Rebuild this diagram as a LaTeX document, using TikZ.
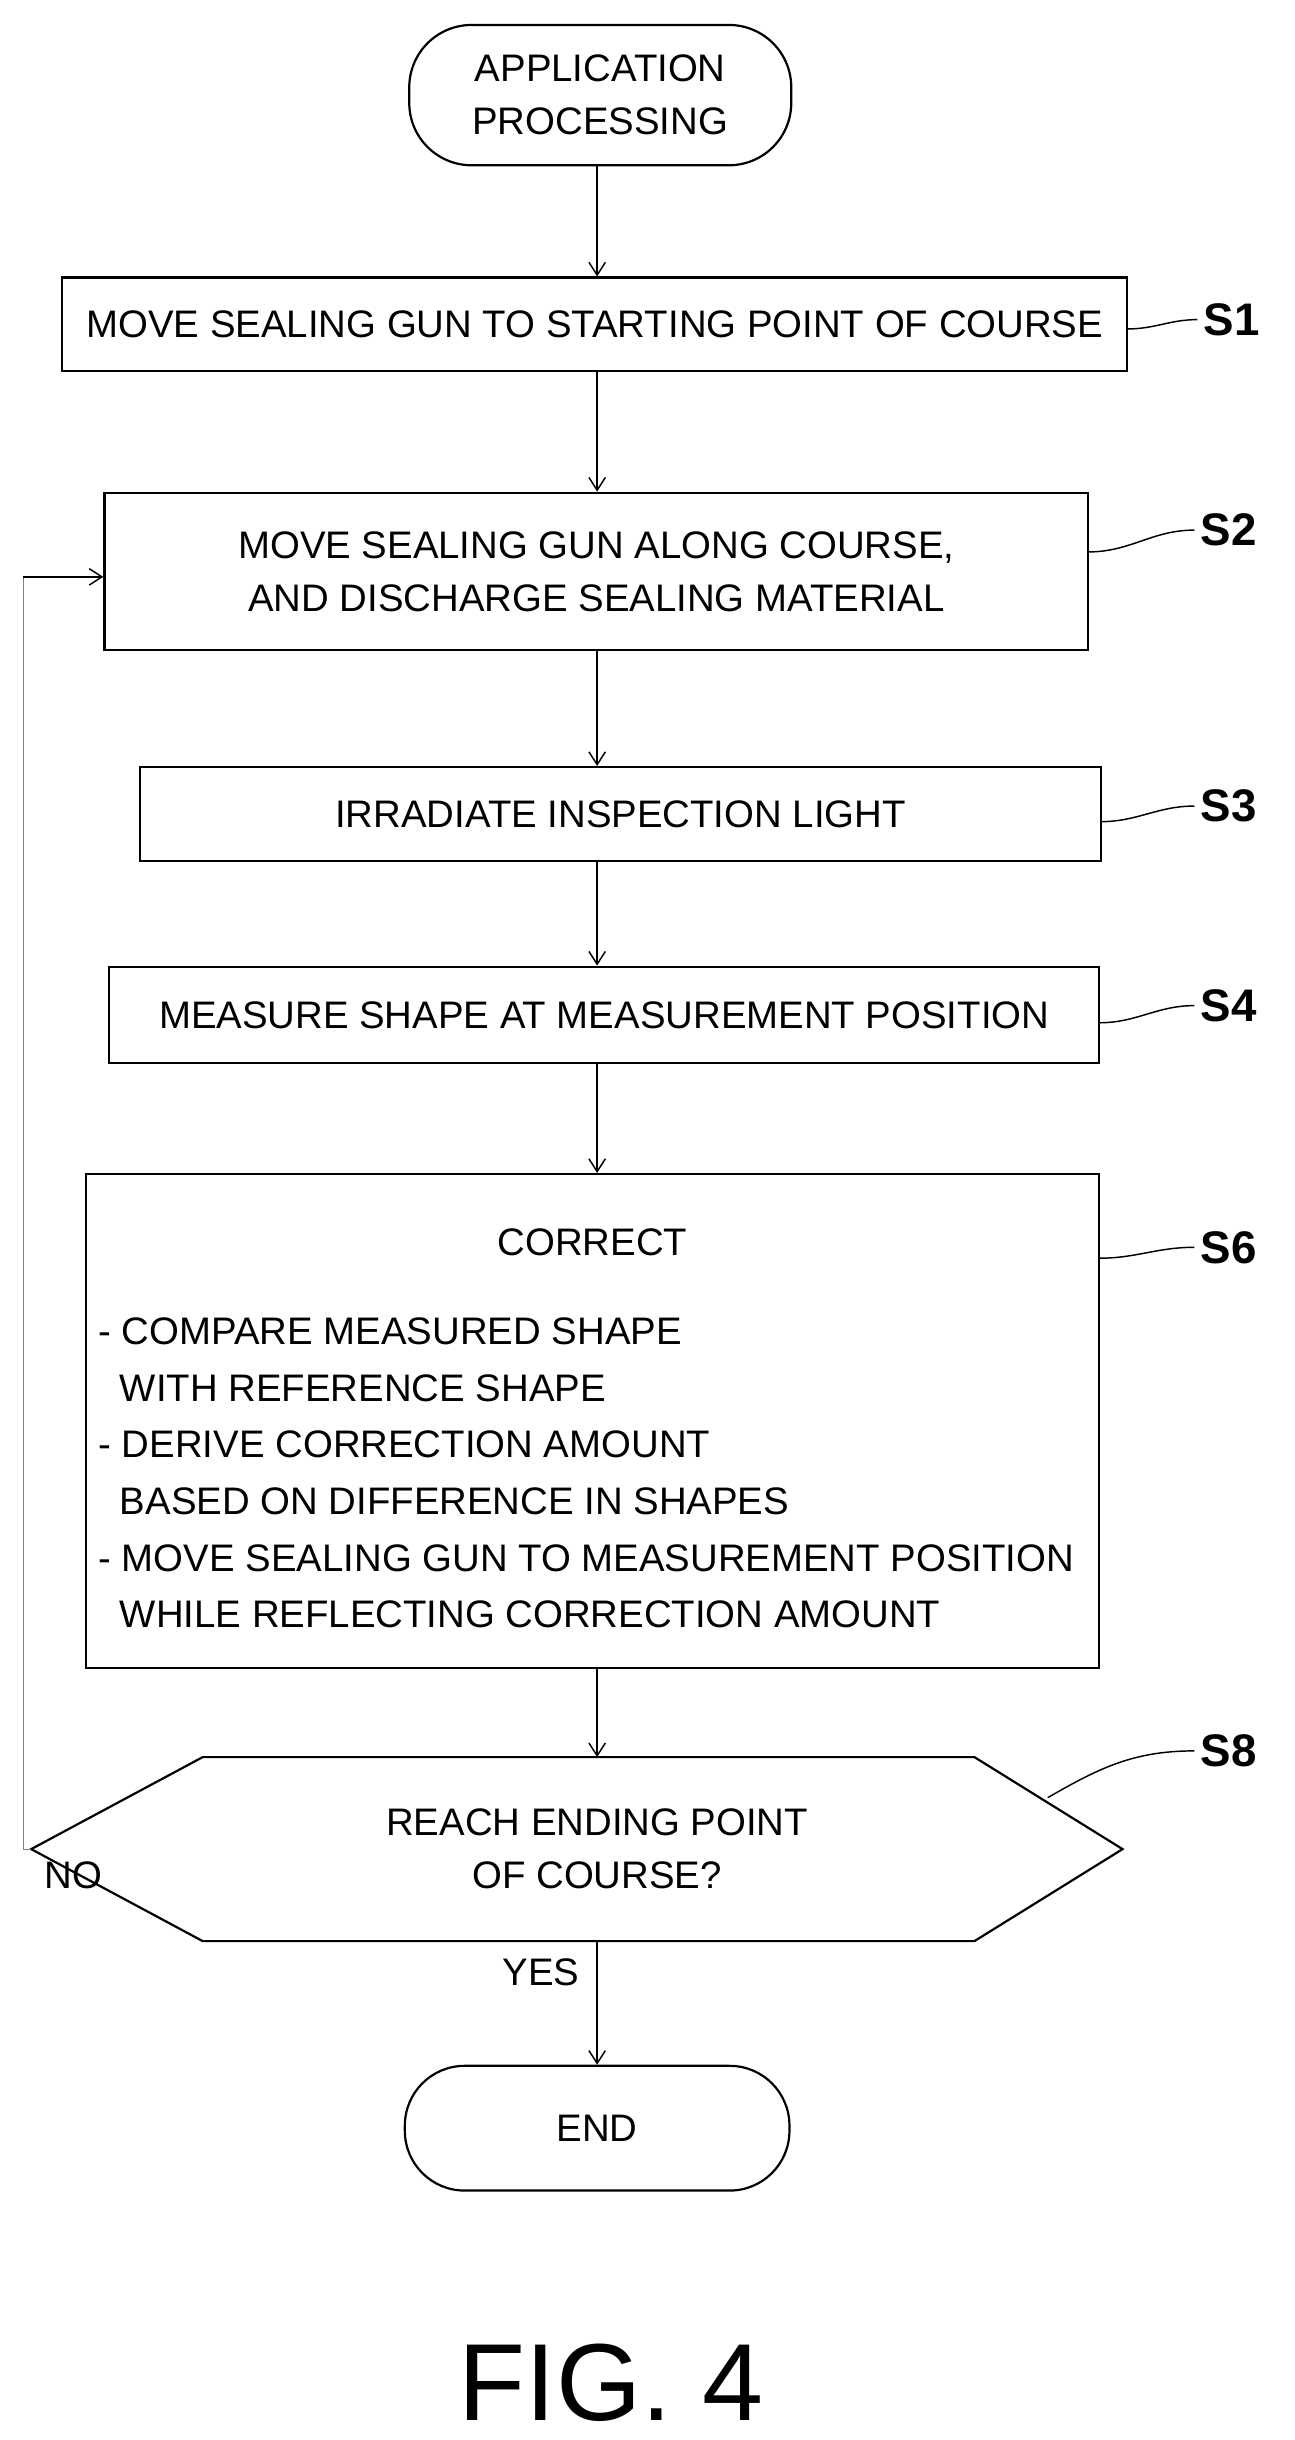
\documentclass[tikz,border=0pt]{standalone}
\usepackage{fontspec}
\setmainfont{Liberation Sans}
\usetikzlibrary{arrows.meta}
\begin{document}
\begin{tikzpicture}[x=0.03cm,y=-0.03cm,
  every node/.style={font=\fontsize{21}{29}\selectfont},
  box/.style={draw,line width=1.2pt,align=center,inner sep=0pt},
  term/.style={draw,line width=1.2pt,rounded corners=1.2cm,align=center,inner sep=0pt},
  arr/.style={line width=0.8pt,-{Straight Barb[length=7pt,width=9pt]}},
  lead/.style={line width=0.8pt},
  lab/.style={font=\fontsize{25}{28}\selectfont\bfseries,anchor=west}]
\useasboundingbox (0,0) rectangle (830,1565);
\node[term,minimum width=7.35cm,minimum height=2.7cm] (st) at (385,61) {APPLICATION\\PROCESSING};
\node[box,minimum width=20.49cm,minimum height=1.8cm] (s1) at (381.5,208) {MOVE SEALING GUN TO STARTING POINT OF COURSE};
\node[box,minimum width=18.93cm,minimum height=3.03cm] (s2) at (382.5,366.5) {MOVE SEALING GUN ALONG COURSE,\\AND DISCHARGE SEALING MATERIAL};
\node[box,minimum width=18.48cm,minimum height=1.8cm] (s3) at (398,522) {IRRADIATE INSPECTION LIGHT};
\node[box,minimum width=19.05cm,minimum height=1.86cm] (s4) at (387.5,651) {MEASURE SHAPE AT MEASUREMENT POSITION};
\node[box,minimum width=19.5cm,minimum height=9.51cm] (s6) at (380,911.5) {};
\node (c6) at (380,797) {CORRECT};
\node[anchor=north west,align=left,inner sep=0pt,font=\fontsize{21}{31}\selectfont] (t6) at (63,845) {- COMPARE MEASURED SHAPE\\\ \ WITH REFERENCE SHAPE\\- DERIVE CORRECTION AMOUNT\\\ \ BASED ON DIFFERENCE IN SHAPES\\- MOVE SEALING GUN TO MEASUREMENT POSITION\\\ \ WHILE REFLECTING CORRECTION AMOUNT};
\coordinate (hl) at (20,1186);
\coordinate (htl) at (130,1127);
\coordinate (htr) at (625,1127);
\coordinate (hr) at (720,1186);
\coordinate (hbr) at (625,1245);
\coordinate (hbl) at (130,1245);
\draw[line width=1.2pt] (hl)--(htl)--(htr)--(hr)--(hbr)--(hbl)--cycle;
\node[align=center] (s8) at (383,1186) {REACH ENDING POINT\\OF COURSE?};
\node[term,minimum width=7.4cm,minimum height=2.4cm,rounded corners=1.15cm] (en) at (383,1365) {END};
\node (no) at (47,1203) {NO};
\node (yes) at (347,1265) {YES};
\node[font=\fontsize{60}{70}\selectfont] (fig) at (392,1528) {FIG. 4};
\draw[arr] (st.south -| 383,0) -- (s1.north -| 383,0);
\draw[arr] (s1.south -| 383,0) -- (s2.north -| 383,0);
\draw[arr] (s2.south -| 383,0) -- (s3.north -| 383,0);
\draw[arr] (s3.south -| 383,0) -- (s4.north -| 383,0);
\draw[arr] (s4.south -| 383,0) -- (s6.north -| 383,0);
\draw[arr] (s6.south -| 383,0) -- (383,1127);
\draw[arr] (383,1245) -- (en);
\coordinate (lp) at (15,1186);
\coordinate (lt) at (15,370);
\draw[line width=0.6pt,gray] (hl) -- (lp) -- (lt);
\draw[arr] (lt) -- (s2.west |- lt);
\node[lab] (l1) at (768,205) {S1};
\node[lab] (l2) at (766,340) {S2};
\node[lab] (l3) at (766,517) {S3};
\node[lab] (l4) at (766,645) {S4};
\node[lab] (l6) at (766,800) {S6};
\node[lab] (l8) at (766,1123) {S8};
\draw[lead] (723,211) to[out=0,in=180] (l1.west);
\draw[lead] (698,354) to[out=0,in=180] (l2.west);
\draw[lead] (706,527) to[out=0,in=180] (l3.west);
\draw[lead] (705,656) to[out=0,in=180] (l4.west);
\draw[lead] (705,807) to[out=0,in=180] (l6.west);
\draw[lead] (672,1153) to[out=30,in=180] (l8.west);
\end{tikzpicture}
\end{document}
